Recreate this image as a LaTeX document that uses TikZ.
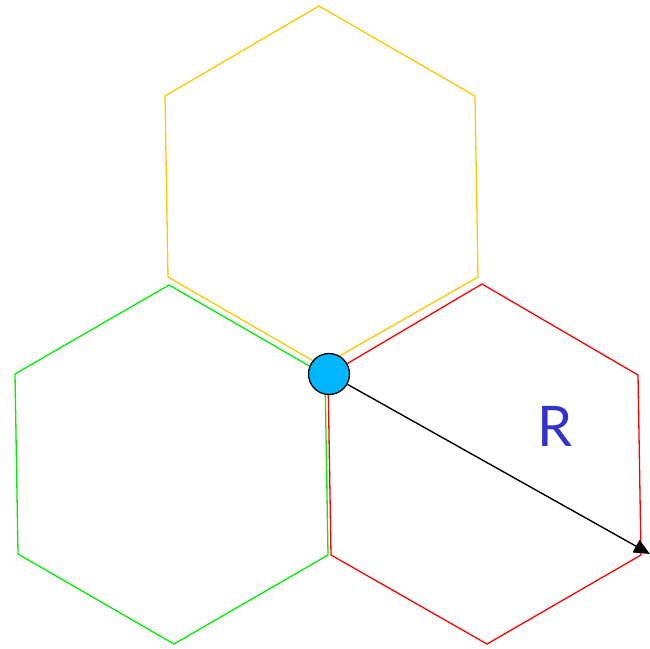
\documentclass[tikz,border=0pt]{standalone}
\usepackage{fontspec}
\newfontfamily\labelfont{Lato}
\usetikzlibrary{arrows.meta}
\definecolor{hexyellow}{RGB}{255,200,0}
\definecolor{hexgreen}{RGB}{0,240,0}
\definecolor{hexred}{RGB}{255,0,0}
\definecolor{dotblue}{RGB}{0,183,255}
\definecolor{labblue}{RGB}{51,51,204}
\tikzset{
  hexline/.style={line width=1.3pt, line join=miter},
  dot/.style={circle, draw=black, fill=dotblue, line width=1.3pt, minimum size=41pt, inner sep=0pt},
  radius arrow/.style={line width=1.4pt, -{Triangle[length=16pt,width=14pt]}},
}
\begin{document}
\begin{tikzpicture}[x=1pt,y=-1pt]
\useasboundingbox (0,0) rectangle (650,648);
% yellow hexagon
\draw[hexline, hexyellow] (319,6) -- (475,96) -- (478,277) -- (322,366) -- (168,277) -- (165,96) -- cycle;
% green hexagon
\draw[hexline, hexgreen] (169,285) -- (325,375) -- (328,555) -- (174,644) -- (18,554) -- (15,374) -- cycle;
% red hexagon
\draw[hexline, hexred] (482,284) -- (638,375) -- (641,555) -- (487,644) -- (331,555) -- (328,375) -- cycle;
\node[dot] (c) at (329,374) {};
\coordinate (e) at (650,554);
\draw[radius arrow] (c) -- (e);
\node[text=labblue, font=\labelfont\fontsize{56}{56}\selectfont, inner sep=0pt] (r) at (555,426) {R};
\end{tikzpicture}
\end{document}
